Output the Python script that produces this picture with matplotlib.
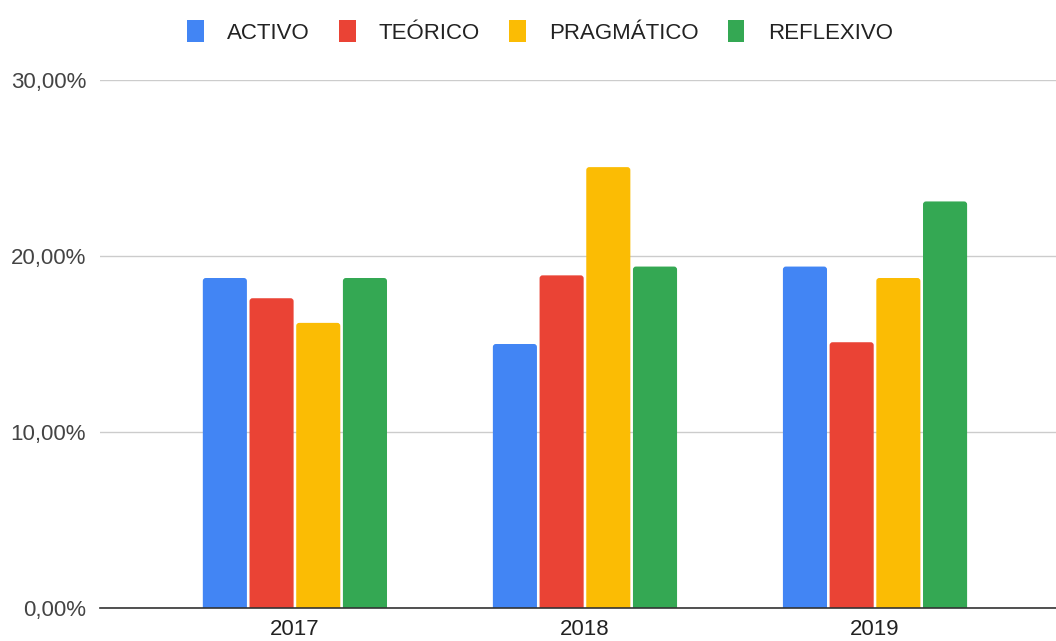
import matplotlib
matplotlib.use("Agg")
import matplotlib.pyplot as plt
from matplotlib.patches import FancyBboxPatch, Patch
import numpy as np

years = ["2017", "2018", "2019"]
series_names = ["ACTIVO", "TEÓRICO", "PRAGMÁTICO", "REFLEXIVO"]
activo = [18.75, 15.0, 19.4]
teorico = [17.6, 18.9, 15.1]
pragmatico = [16.2, 25.05, 18.75]
reflexivo = [18.75, 19.4, 23.1]
colors = ["#4285F4", "#EA4335", "#FBBC04", "#34A853"]
yticks = [0, 10, 20, 30]
ytick_labels = ["0,00%", "10,00%", "20,00%", "30,00%"]

plt.rcParams['font.family'] = ['Liberation Sans', 'DejaVu Sans']

fig = plt.figure(figsize=(10.56, 6.41), dpi=100)
ax = fig.add_axes([100/1056, 33/641, 956/1056, 528/641])

xlim = (-0.672, 2.624)
ylim = (0, 30)
ax.set_xlim(*xlim)
ax.set_ylim(*ylim)

x = np.arange(len(years))
step = 0.161
width = 0.152
data = [activo, teorico, pragmatico, reflexivo]
xpp = (xlim[1] - xlim[0]) / 956.0
ypp = (ylim[1] - ylim[0]) / 528.0
for i, (vals, name, c) in enumerate(zip(data, series_names, colors)):
    bars = ax.bar(x + (i - 1.5) * step, vals, width=width, color=c, label=name, zorder=3)
    for b in bars:
        bx, bw, bh = b.get_x(), b.get_width(), b.get_height()
        b.set_visible(False)
        p = FancyBboxPatch((bx, -1.0), bw, bh + 1.0,
                           boxstyle="round,pad=0,rounding_size=%f" % (3 * xpp),
                           mutation_aspect=ypp / xpp, facecolor=c, edgecolor="none",
                           zorder=3)
        ax.add_patch(p)

ax.set_yticks(yticks)
ax.set_yticklabels(ytick_labels, fontsize=16, color="#444444")
ax.set_xticks(x)
ax.set_xticklabels(years, fontsize=16, color="#222222")
ax.tick_params(axis='both', length=0)
ax.tick_params(axis='y', pad=10)
ax.tick_params(axis='x', pad=8)
ax.grid(axis='y', color="#cccccc", linewidth=1, zorder=0)
for s in ["top", "right", "left"]:
    ax.spines[s].set_visible(False)
ax.spines["bottom"].set_color("#333333")
ax.spines["bottom"].set_linewidth(1.2)
ax.spines["bottom"].set_zorder(4)

handles = [Patch(facecolor=c, edgecolor="none") for c in colors]
leg = fig.legend(handles, series_names, loc="center", bbox_to_anchor=(540/1056, 1 - 32/641), ncol=4,
                 frameon=False, fontsize=16, handlelength=0.75, handleheight=1.1,
                 columnspacing=1.3, handletextpad=1.05)
for t in leg.get_texts():
    t.set_color("#222222")

fig.savefig("out.png", dpi=100, facecolor="white")
